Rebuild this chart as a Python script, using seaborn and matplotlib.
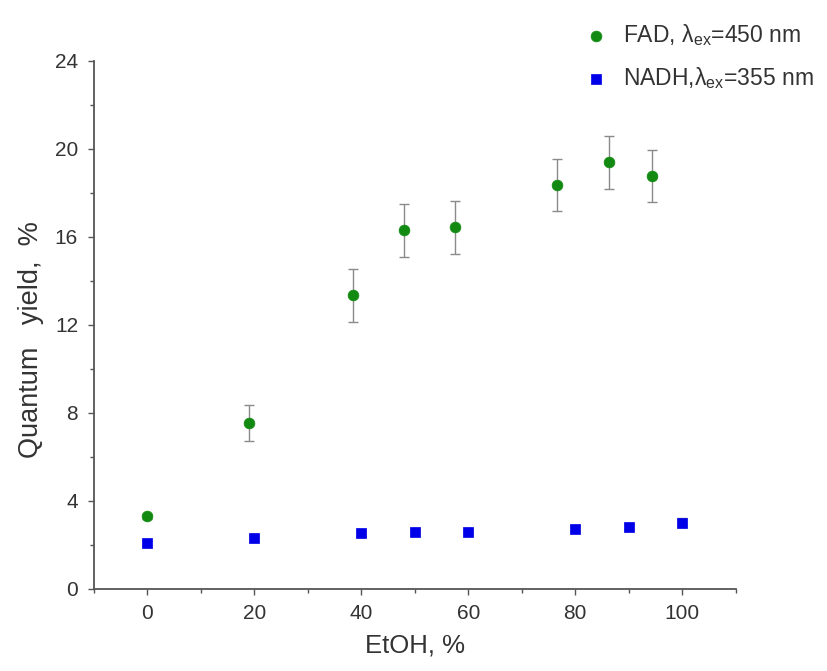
import matplotlib
matplotlib.use("Agg")
import matplotlib.pyplot as plt
import seaborn as sns
import numpy as np
from matplotlib.ticker import MultipleLocator

# Data
fad_x = [0, 19, 38.4, 47.9, 57.5, 76.7, 86.4, 94.3]
fad_y = [3.3, 7.55, 13.35, 16.3, 16.45, 18.35, 19.4, 18.77]
fad_err = [0.1, 0.8, 1.2, 1.2, 1.2, 1.18, 1.2, 1.2]

nadh_x = [0, 20, 40, 50, 60, 80, 90, 100]
nadh_y = [2.08, 2.3, 2.53, 2.6, 2.58, 2.75, 2.83, 3.02]
nadh_err = [0.1, 0.1, 0.1, 0.1, 0.1, 0.1, 0.1, 0.2]

fad_label = r"FAD, $\mathregular{\lambda_{ex}}$=450 nm"
nadh_label = r"NADH,$\mathregular{\lambda_{ex}}$=355 nm"
xlabel = "EtOH, %"
ylabel = "Quantum   yield,  %"

sns.set_theme(style="ticks")
plt.rcParams['font.family'] = ['Liberation Sans', 'DejaVu Sans']
plt.rcParams['mathtext.default'] = 'regular'

fig = plt.figure(figsize=(8.27, 6.71), dpi=100)
ax = fig.add_axes([94/827, 1 - 589/671, (735.5 - 94)/827, (589 - 61)/671])

green = "#128a12"
blue = "#0000e8"

ax.errorbar(fad_x, fad_y, yerr=fad_err, fmt='none', ecolor='#8a8a8a',
            elinewidth=1.0, capsize=3.5, capthick=1.0, zorder=2)
ax.errorbar(nadh_x, nadh_y, yerr=nadh_err, fmt='none', ecolor='#8a8a8a',
            elinewidth=1.0, capsize=3.5, capthick=1.0, zorder=2)

sns.scatterplot(x=fad_x, y=fad_y, ax=ax, marker='o', s=60, color=green,
                edgecolor=green, linewidth=0.5, label=fad_label, zorder=3)
sns.scatterplot(x=nadh_x, y=nadh_y, ax=ax, marker='s', s=55, color=blue,
                edgecolor=blue, linewidth=0.5, label=nadh_label, zorder=3)

ax.set_xlim(-10, 110)
ax.set_ylim(0, 24)
ax.xaxis.set_major_locator(MultipleLocator(20))
ax.xaxis.set_minor_locator(MultipleLocator(10))
ax.yaxis.set_major_locator(MultipleLocator(4))
ax.yaxis.set_minor_locator(MultipleLocator(2))
ax.set_xticks(range(0, 101, 20))

for s in ['top', 'right']:
    ax.spines[s].set_visible(False)
for s in ['left', 'bottom']:
    ax.spines[s].set_color('#555555')
    ax.spines[s].set_linewidth(1.3)

ax.tick_params(axis='both', which='major', direction='out', length=4.5,
               width=1.0, color='#555555', labelsize=15, labelcolor='#333333')
ax.tick_params(axis='y', which='major', pad=7)
ax.tick_params(axis='x', which='major', pad=6)
ax.tick_params(axis='both', which='minor', direction='out', length=3,
               width=1.0, color='#555555')

ax.set_xlabel(xlabel, fontsize=18.5, color='#333333', labelpad=8)
ax.set_ylabel(ylabel, fontsize=19.5, color='#333333')
ax.yaxis.set_label_coords(-0.078, 0.473)

leg = ax.legend(loc='upper left', bbox_to_anchor=(0.6815, 0.995), bbox_transform=fig.transFigure,
                frameon=False, fontsize=16.5, labelspacing=0.75, handletextpad=0.6,
                handlelength=1.2, borderpad=0.3)
for t in leg.get_texts():
    t.set_color('#333333')

fig.savefig("out.png", dpi=100)
